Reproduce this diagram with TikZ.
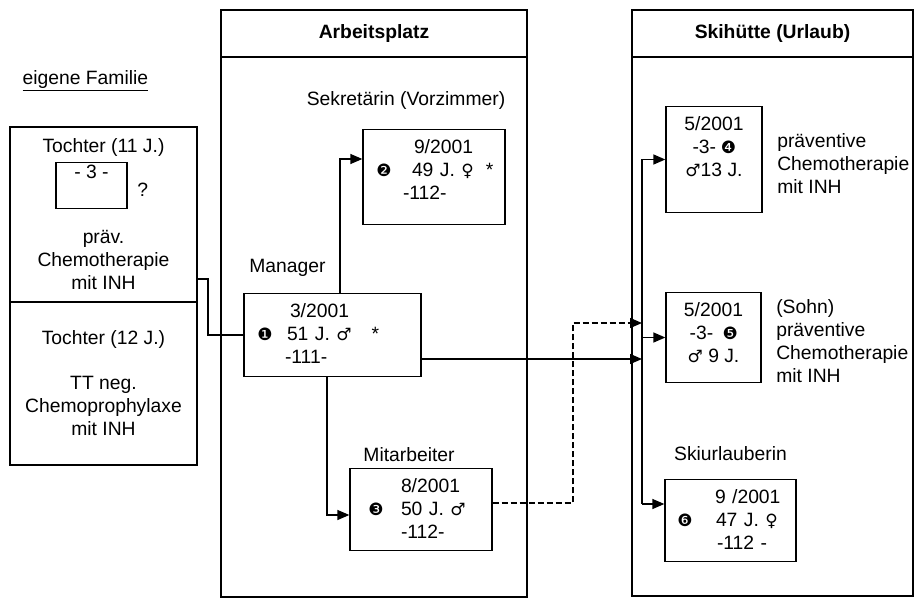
\documentclass[tikz,border=0pt]{standalone}
\usepackage{fontspec}
\setmainfont{Liberation Sans}
\newfontfamily\symfont{DejaVu Sans}
\usepackage{tikz}
\usetikzlibrary{positioning, arrows.meta}

\newcommand{\schrift}{\fontsize{19.3}{23}\selectfont}
\newcommand{\kreis}[1]{\makebox[14pt]{\symfont\fontsize{17}{17}\selectfont #1}}
\newcommand{\mann}{{\symfont\fontsize{17}{17}\selectfont ♂}}
\newcommand{\frau}{{\symfont\fontsize{17}{17}\selectfont ♀}}
\newcommand{\unten}[1]{\rule[-#1]{0pt}{#1}}

\begin{document}
\begin{tikzpicture}[x=1pt, y=-1pt, font=\schrift, line width=1.3pt,
    bereich/.style={draw, outer sep=0pt, inner sep=0pt},
    kopf/.style={bereich, minimum height=47pt, font=\schrift\bfseries},
    fall/.style={draw, inner ysep=10pt, align=center},
    beschr/.style={inner sep=0pt},
    pfeil/.style={-{Triangle[length=12pt, width=10pt]}},
    strich/.style={dash pattern=on 6pt off 3pt}]
    \useasboundingbox (0,0) rectangle (917,604);

    % Bereiche
    \node[kopf, minimum width=306pt] (arbeitkopf) at (374,33.5) {Arbeitsplatz};
    \node[bereich, minimum width=306pt, minimum height=540pt, below=0pt of arbeitkopf] (arbeit) {};
    \node[kopf, minimum width=281pt] (skikopf) at (772.5,33.5) {Skihütte (Urlaub)};
    \node[bereich, minimum width=281pt, minimum height=539pt, below=0pt of skikopf] (ski) {};

    % eigene Familie
    \node[beschr, anchor=base west] (familie) at (22,85) {\underline{eigene Familie}};
    \node[bereich, minimum width=187pt, minimum height=175pt, align=center] (famA) at (103.5,214.5)
        {Tochter (11 J.)\\[68pt]präv.\\Chemotherapie\\mit INH};
    \node[bereich, minimum width=187pt, minimum height=163pt, align=center, below=0pt of famA] (famB)
        {Tochter (12 J.)\\[22pt]TT neg.\\Chemoprophylaxe\\mit INH};
    \node[fall, minimum width=71pt, inner ysep=3pt] (drei) at (91.5,185.5) {- 3 -\unten{27pt}};
    \node[beschr, right=9pt of drei, yshift=-4.5pt] (frage) {?};

    % Arbeitsplatz
    \node[fall, align=left, text width=149pt, inner xsep=14pt] (manager) at (332.5,335)
        {\hspace*{32pt}3/2001\\\kreis{❶}\hspace{15pt}51 J. \mann\hspace{20pt}\rlap{*}\\\hspace*{27pt}-111-\unten{3pt}};
    \node[fall, align=left, text width=114pt, inner xsep=14pt] (sek) at (434,177)
        {\hspace*{37pt}9/2001\\\kreis{❷}\hspace{21pt}49 J. \frau\hspace{12pt}\rlap{*}\\\hspace*{26pt}-112-\unten{15pt}};
    \node[fall, align=left, text width=104pt, inner xsep=19pt] (mit) at (421,509.5)
        {\hspace*{32pt}8/2001\\\kreis{❸}\hspace{18pt}50 J. \mann\\\hspace*{32pt}-112-\unten{2pt}};
    \node[beschr] (managertext) at (287.5,268) {Manager};
    \node[beschr] (sektext) at (406,101) {Sekretärin (Vorzimmer)};
    \node[beschr] (mittext) at (409,455) {Mitarbeiter};

    % Skihuette
    \node[fall, minimum width=96pt] (b4) at (714,159.5) {5/2001\\-3- \kreis{❹}\\\mann13 J.\unten{26pt}};
    \node[fall, minimum width=95pt] (b5) at (713.5,337.5) {5/2001\\-3-\hspace{10pt}\kreis{❺}\\\mann\ 9 J.\unten{10pt}};
    \node[fall, align=left, text width=105pt, inner xsep=13pt] (b6) at (730.5,520.5)
        {\hspace*{37pt}9~/2001\\\kreis{❻}\hspace{24pt}47 J. \frau\\\hspace*{39pt}-112~-\unten{2pt}};
    \node[beschr, align=left, right=14pt of b4, yshift=-4.5pt] (b4text) {präventive\\Chemotherapie\\mit INH};
    \node[beschr, align=left, right=14pt of b5, yshift=-4pt] (b5text) {(Sohn)\\präventive\\Chemotherapie\\mit INH};
    \node[beschr, above=18pt of b6] (skitext) {Skiurlauberin};

    \coordinate (busoben) at (642,159.5);
    \coordinate (busunten) at (642,504);
    \coordinate (ein1) at (642,359);
    \coordinate (ein2) at (642,323);

    % Verbindungen
    \draw ([yshift=23pt]famA.south east) -- ++(11pt,0pt) |- (manager.west);
    \draw[pfeil] ([xshift=7.5pt]manager.north) |- ([yshift=18pt]sek.west);
    \draw[pfeil] ([xshift=-5.5pt]manager.south) |- ([yshift=-5.5pt]mit.west);
    \draw[pfeil] ([yshift=-24pt]manager.east) -- (ein1);
    \draw[pfeil, strich] ([yshift=6.5pt]mit.east) -| ([xshift=-69pt]ein2) -- (ein2);
    \draw (busoben) -- (busunten);
    \draw[pfeil] (busoben) -- (b4.west);
    \draw[pfeil] (busoben |- b5.west) -- (b5.west);
    \draw[pfeil] (busunten) -- (busunten -| b6.west);
\end{tikzpicture}
\end{document}
